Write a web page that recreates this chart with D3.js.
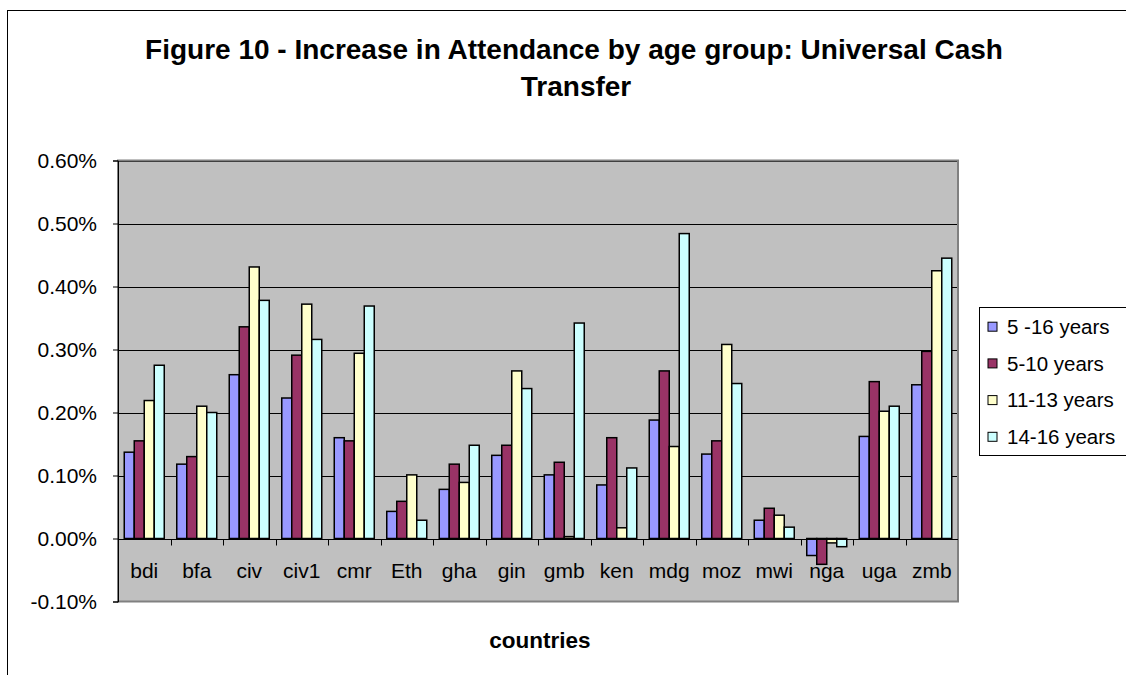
<!DOCTYPE html>
<html>
<head>
<meta charset="utf-8">
<script src="https://cdn.jsdelivr.net/npm/d3@7/dist/d3.min.js"></script>
<style>
  html, body { margin: 0; padding: 0; background: #fff; }
  svg { display: block; }
  text { font-family: Arial, "Liberation Sans", sans-serif; fill: #000; }
</style>
</head>
<body>
<svg id="chart" width="1126" height="675"></svg>
<script>
// Countries on the category axis
const categories = ["bdi", "bfa", "civ", "civ1", "cmr", "Eth", "gha", "gin", "gmb", "ken", "mdg", "moz", "mwi", "nga", "uga", "zmb"];

// Age groups (series)
const seriesNames = ["5 -16 years", "5-10 years", "11-13 years", "14-16 years"];
const seriesColors = ["#9999FF", "#993366", "#FFFFCC", "#CCFFFF"];

// Increase in attendance, one array per age group (fractions, 0.001 = 0.10%)
const age5to16 = [0.00137, 0.00118, 0.00260, 0.00223, 0.00160, 0.00043, 0.00078, 0.00132, 0.00101, 0.00085, 0.00188, 0.00134, 0.00029, -0.00027, 0.00162, 0.00244];
const age5to10 = [0.00155, 0.00130, 0.00336, 0.00291, 0.00155, 0.00059, 0.00118, 0.00148, 0.00121, 0.00160, 0.00266, 0.00155, 0.00048, -0.00041, 0.00249, 0.00297];
const age11to13 = [0.00219, 0.00210, 0.00431, 0.00372, 0.00294, 0.00101, 0.00089, 0.00266, 0.00003, 0.00017, 0.00146, 0.00308, 0.00037, -0.00007, 0.00202, 0.00425];
const age14to16 = [0.00275, 0.00200, 0.00378, 0.00316, 0.00369, 0.00029, 0.00148, 0.00238, 0.00342, 0.00112, 0.00484, 0.00246, 0.00018, -0.00013, 0.00210, 0.00445];

// Value axis ticks
const yTicks = [-0.001, 0, 0.001, 0.002, 0.003, 0.004, 0.005, 0.006];

const seriesValues = [age5to16, age5to10, age11to13, age14to16];

const svg = d3.select("#chart");

// Outer chart frame (runs off the right and bottom edges)
svg.append("rect")
  .attr("x", 7.5).attr("y", 10.5)
  .attr("width", 1300).attr("height", 1000)
  .attr("fill", "#fff").attr("stroke", "#000").attr("stroke-width", 1);

const plot = { left: 118, right: 958, top: 160.5, bottom: 601.5 };

const x0 = d3.scaleBand()
  .domain(categories)
  .range([plot.left, plot.right])
  .paddingInner(0).paddingOuter(0);

const x1 = d3.scaleBand()
  .domain(d3.range(seriesNames.length))
  .range([0, x0.bandwidth()])
  .paddingInner(0).paddingOuter(0.625);

const y = d3.scaleLinear()
  .domain([d3.min(yTicks), d3.max(yTicks)])
  .range([plot.bottom, plot.top]);

// Percent labels with a plain hyphen for negatives
const pct = d3.formatLocale({ decimal: ".", thousands: ",", grouping: [3], currency: ["", ""], minus: "-" }).format(".2%");

// Plot area background
svg.append("rect")
  .attr("x", plot.left).attr("y", plot.top)
  .attr("width", plot.right - plot.left).attr("height", plot.bottom - plot.top)
  .attr("fill", "#C0C0C0");

// Horizontal gridlines
svg.append("g")
  .selectAll("line")
  .data(yTicks.filter(t => t !== 0 && t !== d3.min(yTicks)))
  .join("line")
  .attr("x1", plot.left).attr("x2", plot.right)
  .attr("y1", d => Math.round(y(d)) + 0.5).attr("y2", d => Math.round(y(d)) + 0.5)
  .attr("stroke", "#000").attr("stroke-width", 1);

// Plot area border
svg.append("rect")
  .attr("x", plot.left).attr("y", plot.top)
  .attr("width", plot.right - plot.left).attr("height", plot.bottom - plot.top)
  .attr("fill", "none").attr("stroke", "#808080").attr("stroke-width", 2);

// Bars
const rows = categories.map((c, i) => ({ cat: c, vals: seriesValues.map(s => s[i]) }));
svg.append("g")
  .selectAll("g")
  .data(rows)
  .join("g")
  .attr("transform", d => `translate(${x0(d.cat)},0)`)
  .selectAll("rect")
  .data(d => d.vals.map((v, k) => ({ v, k })))
  .join("rect")
  .attr("x", d => x1(d.k))
  .attr("width", x1.bandwidth())
  .attr("y", d => Math.min(y(d.v), y(0)))
  .attr("height", d => Math.abs(y(d.v) - y(0)))
  .attr("fill", d => seriesColors[d.k])
  .attr("stroke", "#000").attr("stroke-width", 1.5);

// Value axis
const yAxis = svg.append("g")
  .attr("transform", `translate(${plot.left},0)`)
  .call(d3.axisLeft(y).tickValues(yTicks).tickFormat(pct).tickSize(5).tickPadding(16));
yAxis.select(".domain").attr("stroke", "#000");
yAxis.selectAll(".tick line").attr("stroke", "#000");
yAxis.selectAll("text").style("font-size", "21px").attr("dy", "0.35em");

// Category axis at zero, ticks at category boundaries
const zeroY = Math.round(y(0)) + 0.5;
svg.append("line")
  .attr("x1", plot.left).attr("x2", plot.right)
  .attr("y1", zeroY).attr("y2", zeroY)
  .attr("stroke", "#000").attr("stroke-width", 1);

svg.append("g")
  .selectAll("line")
  .data(categories.slice(1))
  .join("line")
  .attr("x1", d => Math.round(x0(d)) + 0.5).attr("x2", d => Math.round(x0(d)) + 0.5)
  .attr("y1", zeroY).attr("y2", zeroY + 6)
  .attr("stroke", "#000");

svg.append("g")
  .selectAll("text")
  .data(categories)
  .join("text")
  .attr("x", d => x0(d) + x0.bandwidth() / 2)
  .attr("y", 578)
  .attr("text-anchor", "middle")
  .style("font-size", "21px")
  .text(d => d);

// Titles
const title = svg.append("text")
  .attr("text-anchor", "middle")
  .style("font-size", "28px").style("font-weight", "bold");
title.append("tspan").attr("x", 574).attr("y", 59)
  .text("Figure 10 - Increase in Attendance by age group: Universal Cash");
title.append("tspan").attr("x", 576).attr("y", 96).text("Transfer");

svg.append("text")
  .attr("x", 540).attr("y", 648)
  .attr("text-anchor", "middle")
  .style("font-size", "22.5px").style("font-weight", "bold")
  .text("countries");

// Legend
const legend = svg.append("g");
legend.append("rect")
  .attr("x", 979.5).attr("y", 307.5)
  .attr("width", 200).attr("height", 148)
  .attr("fill", "#fff").attr("stroke", "#000").attr("stroke-width", 1);

const items = legend.selectAll("g.item")
  .data(seriesNames)
  .join("g")
  .attr("class", "item")
  .attr("transform", (d, i) => `translate(0,${326.7 + i * 36.7})`);
items.append("rect")
  .attr("x", 988).attr("y", -4.5).attr("width", 9).attr("height", 9)
  .attr("fill", (d, i) => seriesColors[i])
  .attr("stroke", "#000").attr("stroke-width", 1);
items.append("text")
  .attr("x", 1007).attr("y", 0).attr("dy", "0.36em")
  .style("font-size", "20.5px")
  .text(d => d);
</script>
</body>
</html>
